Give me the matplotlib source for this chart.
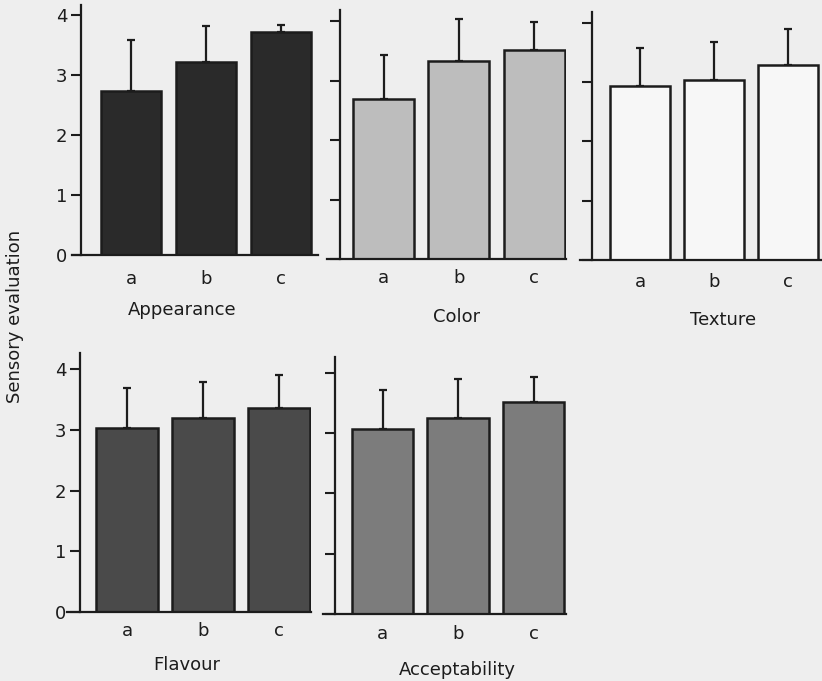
import numpy as np
import matplotlib
matplotlib.use("Agg")
import matplotlib.pyplot as plt

W, H = 822, 681

samples = ["a", "b", "c"]

appearance = [2.73, 3.22, 3.72]
appearance_err = [0.85, 0.60, 0.11]
color = [2.69, 3.33, 3.51]
color_err = [0.74, 0.70, 0.47]
texture = [2.93, 3.04, 3.29]
texture_err = [0.64, 0.64, 0.61]
flavour = [3.03, 3.20, 3.36]
flavour_err = [0.66, 0.59, 0.54]
acceptability = [3.07, 3.25, 3.52]
acceptability_err = [0.64, 0.65, 0.41]

titles = ["Appearance", "Color", "Texture", "Flavour", "Acceptability"]

plt.rcParams["font.family"] = ["DejaVu Sans"]
ink = "#1c1c1c"

fig = plt.figure(figsize=(W / 100, H / 100), dpi=100, facecolor="#eeeeee")

# layout in pixels: left, y-axis, right, zero line, top, px per unit, centre of bar a, spacing
panels = [
    (appearance, appearance_err, "#2a2a2a", (72, 81, 318, 255, 5, 60.0, 131, 75.0), True, 11, (182, 310)),
    (color, color_err, "#bdbdbd", (327, 340, 566, 259, 10, 59.5, 383.5, 75.3), False, 7, (457, 317)),
    (texture, texture_err, "#f7f7f7", (580, 592, 822, 260, 12, 59.3, 640, 74.0), False, 9, (723, 320)),
    (flavour, flavour_err, "#4a4a4a", (67, 80, 311, 612, 353, 60.7, 127, 76.0), True, 7, (187, 665)),
    (acceptability, acceptability_err, "#7c7c7c", (323, 335, 566, 614, 357, 60.3, 382.5, 75.5), False, 8, (457, 670)),
]

for (vals, errs, fc, box, show_y, xpad, tpos), title in zip(panels, titles):
    left, axis_x, right, zero, top, ppu, c0, sp = box
    ax = fig.add_axes([left / W, 1 - zero / H, (right - left) / W, (zero - top) / H])
    ax.set_facecolor("none")
    x = np.arange(len(samples))
    ax.bar(x, vals, width=0.81, color=fc, edgecolor=ink, linewidth=1.8, zorder=2)
    ax.errorbar(x, vals, yerr=[np.zeros(3), errs], fmt="none", ecolor=ink,
                elinewidth=1.6, capsize=2.8, capthick=1.6, zorder=1)
    ax.set_xlim((left - c0) / sp, (right - c0) / sp)
    ax.set_ylim(0, (zero - top) / ppu)
    for s in ["top", "right"]:
        ax.spines[s].set_visible(False)
    ax.spines["left"].set_position(("data", (axis_x - c0) / sp))
    ax.spines["left"].set_linewidth(1.6)
    ax.spines["bottom"].set_linewidth(1.6)
    ax.spines["left"].set_color(ink)
    ax.spines["bottom"].set_color(ink)
    ax.set_yticks([0, 1, 2, 3, 4])
    ax.tick_params(axis="y", length=7, width=1.5, color=ink, labelsize=13, pad=3)
    if not show_y:
        ax.set_yticklabels([])
    ax.set_xticks(x)
    ax.set_xticklabels(samples)
    ax.tick_params(axis="x", length=0, labelsize=13, pad=xpad, labelcolor=ink)
    ax.tick_params(axis="y", labelcolor=ink)
    fig.text(tpos[0] / W, 1 - tpos[1] / H, title, ha="center", va="center",
             fontsize=13, color=ink)

fig.text(15 / W, 1 - 316 / H, "Sensory evaluation", rotation=90, ha="center",
         va="center", fontsize=13, color=ink)

fig.savefig("out.png", dpi=100, facecolor=fig.get_facecolor())
